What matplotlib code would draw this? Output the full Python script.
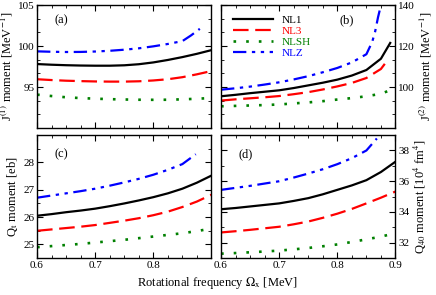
import matplotlib
matplotlib.use("Agg")
import matplotlib.pyplot as plt
from matplotlib.ticker import MultipleLocator

plt.rcParams.update({
    "font.family": "Liberation Serif",
    "mathtext.fontset": "stix",
    "font.size": 8,
    "xtick.direction": "in",
    "ytick.direction": "in",
    "xtick.top": True,
    "ytick.right": True,
    "xtick.major.size": 4,
    "ytick.major.size": 4,
    "xtick.minor.size": 2,
    "ytick.minor.size": 2,
    "axes.linewidth": 1.0,
})

# rotational frequency grid (MeV)
x_full = [0.6, 0.625, 0.65, 0.675, 0.7, 0.725, 0.75, 0.775, 0.8, 0.825, 0.85, 0.875, 0.9]

# (a) J(1) moment
j1_nl1 = [97.8, 97.72, 97.66, 97.62, 97.6, 97.6, 97.65, 97.78, 98.0, 98.3, 98.65, 99.05, 99.5]
j1_nl3 = [95.95, 95.85, 95.77, 95.72, 95.68, 95.66, 95.66, 95.7, 95.8, 95.95, 96.2, 96.55, 96.95]
j1_nlsh = [94.07, 93.9, 93.75, 93.65, 93.58, 93.52, 93.48, 93.45, 93.44, 93.45, 93.5, 93.57, 93.66]
x_j1_nlz = [0.6, 0.625, 0.65, 0.675, 0.7, 0.725, 0.75, 0.775, 0.8, 0.825, 0.85, 0.865, 0.88]
j1_nlz = [99.35, 99.3, 99.27, 99.28, 99.33, 99.42, 99.55, 99.72, 99.96, 100.25, 100.6, 101.3, 102.1]

# (b) J(2) moment
x_j2_nl1 = [0.6, 0.625, 0.65, 0.675, 0.7, 0.725, 0.75, 0.775, 0.8, 0.825, 0.85, 0.875, 0.891]
j2_nl1 = [95.5, 96.2, 97.0, 97.7, 98.4, 99.5, 100.8, 102.1, 103.6, 105.6, 108.3, 113.8, 121.5]
x_j2_nl3 = [0.6, 0.625, 0.65, 0.675, 0.7, 0.725, 0.75, 0.775, 0.8, 0.825, 0.85, 0.875, 0.883]
j2_nl3 = [93.4, 94.0, 94.5, 95.0, 95.6, 96.5, 97.5, 98.8, 100.3, 102.0, 104.4, 108.8, 111.8]
x_j2_nlsh = [0.6, 0.625, 0.65, 0.675, 0.7, 0.725, 0.75, 0.775, 0.8, 0.825, 0.85, 0.875, 0.895]
j2_nlsh = [90.6, 90.8, 91.0, 91.2, 91.5, 92.0, 92.5, 93.1, 93.9, 94.6, 95.5, 96.7, 98.9]
x_j2_nlz = [0.6, 0.625, 0.65, 0.675, 0.7, 0.725, 0.75, 0.775, 0.8, 0.825, 0.85, 0.86, 0.865, 0.87, 0.876]
j2_nlz = [98.7, 99.4, 100.2, 101.2, 102.3, 103.7, 105.3, 107.2, 109.3, 112.0, 116.0, 122.0, 127.0, 134.0, 141.0]

# (c) Qt moment
qt_nl1 = [26.05, 26.11, 26.18, 26.24, 26.31, 26.4, 26.5, 26.61, 26.73, 26.87, 27.04, 27.26, 27.52]
qt_nl3 = [25.5, 25.55, 25.6, 25.65, 25.71, 25.79, 25.87, 25.96, 26.07, 26.2, 26.37, 26.57, 26.82]
qt_nlsh = [24.9, 24.94, 24.98, 25.02, 25.07, 25.12, 25.17, 25.23, 25.29, 25.35, 25.41, 25.49, 25.58]
x_qt_nlz = [0.6, 0.625, 0.65, 0.675, 0.7, 0.725, 0.75, 0.775, 0.8, 0.825, 0.85, 0.873]
qt_nlz = [26.71, 26.79, 26.87, 26.95, 27.04, 27.15, 27.27, 27.4, 27.55, 27.73, 27.94, 28.3]

# (d) Q40 moment
q40_nl1 = [34.18, 34.26, 34.36, 34.46, 34.56, 34.72, 34.9, 35.15, 35.44, 35.73, 36.07, 36.6, 37.27]
q40_nl3 = [32.67, 32.75, 32.84, 32.94, 33.04, 33.2, 33.38, 33.62, 33.89, 34.2, 34.56, 34.93, 35.33]
q40_nlsh = [31.29, 31.33, 31.38, 31.43, 31.49, 31.57, 31.66, 31.77, 31.89, 32.05, 32.22, 32.4, 32.62]
x_q40_nlz = [0.6, 0.625, 0.65, 0.675, 0.7, 0.725, 0.75, 0.775, 0.8, 0.825, 0.85, 0.868]
q40_nlz = [35.44, 35.57, 35.7, 35.85, 36.0, 36.24, 36.5, 36.78, 37.11, 37.5, 38.0, 38.78]

# tick labels shown on each panel
xticks_left = [0.6, 0.7, 0.8]
xticks_right = [0.6, 0.7, 0.8, 0.9]
yticks_a = [95, 100, 105]
yticks_b = [100, 120, 140]
yticks_c = [25, 26, 27, 28]
yticks_d = [32, 34, 36, 38]

labels = ["NL1", "NL3", "NLSH", "NLZ"]
colors = ["black", "#ff0000", "#008000", "#0000ff"]
styles = [dict(linestyle="-", lw=1.6),
          dict(dashes=(7, 3), lw=1.6),
          dict(dashes=(1.0, 3.8), lw=1.9),
          dict(dashes=(6, 2.5, 1.5, 2.5, 1.5, 2.5), lw=1.6)]

fig = plt.figure(figsize=(4.36, 2.95), dpi=100)
W = 0.40
H = 0.417
ax_a = fig.add_axes([0.085, 0.566, W, H])
ax_b = fig.add_axes([0.507, 0.566, W, H])
ax_c = fig.add_axes([0.085, 0.125, W, H])
ax_d = fig.add_axes([0.507, 0.125, W, H])

panels = [
    (ax_a, [x_full, x_full, x_full, x_j1_nlz], [j1_nl1, j1_nl3, j1_nlsh, j1_nlz]),
    (ax_b, [x_j2_nl1, x_j2_nl3, x_j2_nlsh, x_j2_nlz], [j2_nl1, j2_nl3, j2_nlsh, j2_nlz]),
    (ax_c, [x_full, x_full, x_full, x_qt_nlz], [qt_nl1, qt_nl3, qt_nlsh, qt_nlz]),
    (ax_d, [x_full, x_full, x_full, x_q40_nlz], [q40_nl1, q40_nl3, q40_nlsh, q40_nlz]),
]

for ax, xs, ys in panels:
    for xv, yv, lab, c, st in zip(xs, ys, labels, colors, styles):
        ax.plot(xv, yv, color=c, label=lab, **st)
    ax.set_xlim(0.6, 0.9)
    ax.xaxis.set_minor_locator(MultipleLocator(0.025))
    ax.tick_params(which="both", labelsize=8, pad=2)

for ax in (ax_a, ax_c):
    ax.set_xticks(xticks_left)
for ax in (ax_b, ax_d):
    ax.set_xticks(xticks_right)

# limits and ticks
ax_a.set_ylim(90, 105)
ax_a.set_yticks(yticks_a)
ax_a.yaxis.set_minor_locator(MultipleLocator(5 / 3))
ax_b.set_ylim(80, 140)
ax_b.set_yticks(yticks_b)
ax_b.yaxis.set_minor_locator(MultipleLocator(20 / 3))
ax_c.set_ylim(24.5, 29)
ax_c.set_yticks(yticks_c)
ax_c.yaxis.set_minor_locator(MultipleLocator(0.5))
ax_d.set_ylim(31, 39)
ax_d.set_yticks(yticks_d)
ax_d.yaxis.set_minor_locator(MultipleLocator(1))

for ax in (ax_a, ax_b):
    ax.tick_params(labelbottom=False)
for ax in (ax_b, ax_d):
    ax.tick_params(labelleft=False, labelright=True)
    ax.yaxis.set_label_position("right")

ax_a.set_ylabel(r"J$^{(1)}$ moment [MeV$^{-1}$]", fontsize=9, labelpad=2)
ax_b.set_ylabel(r"J$^{(2)}$ moment [MeV$^{-1}$]", fontsize=9, labelpad=2)
ax_c.set_ylabel(r"Q$_{\rm t}$ moment [eb]", fontsize=9, labelpad=2)
ax_d.set_ylabel(r"Q$_{40}$ moment [10$^4$ fm$^4$]", fontsize=9, labelpad=2)
fig.text(0.5, 0.015, r"Rotational frequency $\Omega_{\rm x}$ [MeV]", ha="center", va="bottom", fontsize=9)

for ax, tag, pos in [(ax_a, "(a)", (0.1, 0.85)), (ax_b, "(b)", (0.68, 0.85)),
                     (ax_c, "(c)", (0.1, 0.82)), (ax_d, "(d)", (0.1, 0.82))]:
    ax.text(pos[0], pos[1], tag, transform=ax.transAxes, fontsize=9)

leg = ax_b.legend(loc="upper left", bbox_to_anchor=(0.03, 0.97), frameon=False, fontsize=8,
                  handlelength=3.6, handletextpad=0.8, labelspacing=0.1, borderaxespad=0.2)
for txt, c in zip(leg.get_texts(), colors):
    txt.set_color(c)

fig.savefig("out.png", dpi=100)
